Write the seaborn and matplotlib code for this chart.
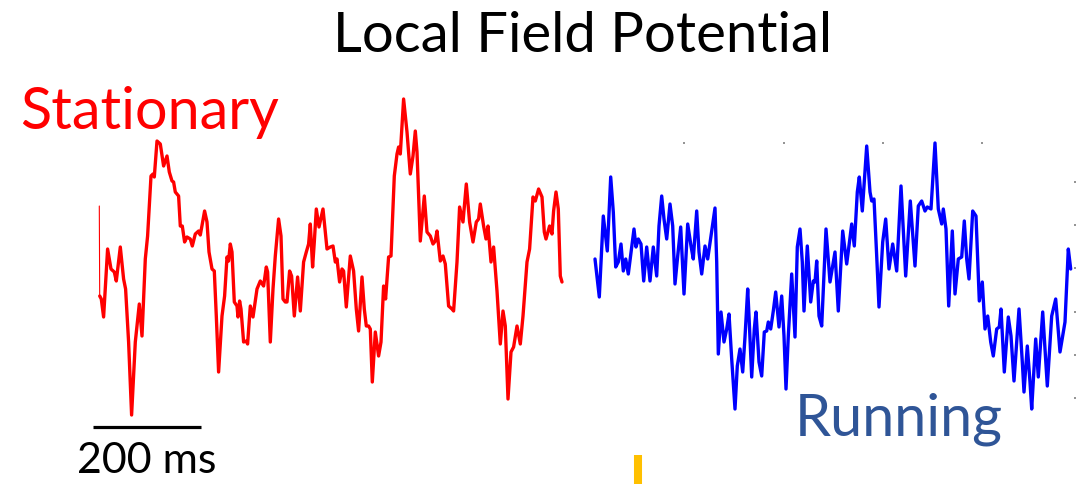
import matplotlib
matplotlib.use("Agg")
import matplotlib.pyplot as plt
import seaborn as sns
import numpy as np
import pandas as pd

# LFP traces, sampled at 540 Hz (sample index, amplitude in µV)
FS_HZ = 540
SCALE_BAR_MS = 200

stationary_sample = [
    0, 0.4, 2, 4.3, 8.3, 11.7, 15, 17, 21, 24.3, 26.3, 29.3, 32.3, 36, 40, 42.7, 46, 48.3,
    51.7, 53.7, 55, 57.7, 61, 64.3, 67.7, 70, 72.7, 74.3, 76, 79.3, 81, 83, 85.3, 87.7, 91,
    93, 96, 99.3, 101, 105.3, 107.7, 109.7, 112.7, 115, 117, 119.3, 122.7, 125.3, 127.7,
    129.3, 131, 132.7, 135, 137.7, 138.7, 140.3, 141.7, 144.3, 147, 148.3, 151, 153.7,
    157.7, 161, 164.3, 167, 168.3, 171, 173.7, 176, 179.3, 181.7, 183.7, 186, 187.7, 190.3,
    192.3, 195, 198.3, 201, 204.3, 207, 209.3, 211, 213.3, 215, 217, 219.7, 223.7, 226,
    227.7, 231, 233.7, 236, 237.7, 240.3, 242.7, 244.3, 247, 251, 254.3, 257, 259.3, 262.7,
    265, 267, 269.3, 271, 273, 276, 279.3, 281.7, 284.3, 286.3, 289.3, 291.7, 295, 297.7,
    299.3, 301, 304.3, 307.7, 311, 313.7, 316, 317.7, 321, 325, 327.7, 331, 333.7, 336,
    337.7, 341, 343.7, 346, 349.3, 352.7, 354.3, 357.7, 360.3, 363.7, 367, 370.3, 373.7,
    377, 379.3, 381, 384.3, 386.7, 388.7, 391.7, 394.3, 397.7, 401, 403.7, 406, 408.7,
    411.7, 414.3, 417.7, 421, 423.7, 427.7, 430.3, 433.7, 436, 439.3, 442.7, 445, 446.7,
    450.3, 452.7, 454.3, 456.7, 459, 461, 462.7,
]
stationary_uv = [
    83, -7, -10, -28, 40, 20, 17, 8, 42, 10, 0, -53, -126, -53, -15, -47, 30, 53,
    113, 115, 112, 148, 145, 123, 133, 117, 108, 107, 97, 93, 63, 63, 47, 52, 50,
    43, 55, 58, 54, 78, 67, 37, 20, 18, -27, -83, -27, -7, 32,
    28, 45, 37, -13, -17, -28, -12, -20, -53, -52, -55, -17, -28,
    0, 8, 3, 22, 17, -53, 0, 33, 70, 53, -10, -13, -13, 18,
    13, -27, 12, -22, 27, 37, 45, 65, 22, 47, 80, 62, 80, 57,
    40, 42, 43, 27, 30, 7, 20, 18, -18, 33, 18, -20, -42, 12,
    -20, -37, -37, -40, -93, -43, -67, -53, 3, -10, 32, 33, 113, 135,
    142, 135, 190, 157, 115, 133, 158, 137, 48, 93, 57, 53, 45, 48,
    58, 28, 33, 25, -17, -20, -22, 27, 82, 67, 105, 67, 47,
    67, 70, 85, 63, 50, 63, 27, 42, -2, -55, -22, -37, -110,
    -63, -58, -37, -55, -27, 27, 40, 92, 88, 100, 92, 57, 50,
    63, 55, 78, 97, 80, 13, 7,
]

running_sample = [
    0, 4.3, 8.3, 12.3, 15.7, 18.3, 20.7, 23.3, 26, 28.3, 30.7, 33.3, 36.7, 39, 41, 43.3,
    46, 48.7, 51.7, 55, 58.3, 61.7, 64, 66.7, 69, 71.7, 75, 77.7, 80, 82.7, 85.7, 89,
    92.7, 96, 98.3, 101.7, 104, 106.7, 110, 112.7, 116, 120, 121.7, 123.3, 126, 129,
    131.7, 134, 136.7, 140, 142.3, 145, 147.7, 150, 152.7, 154, 156.7, 159.3, 161, 164,
    166.7, 169.3, 171.7, 173.3, 175.7, 178.3, 180.7, 184, 186.7, 189, 191, 193.3, 196.7,
    200, 202.3, 205, 207.3, 209, 212.3, 215.7, 218.3, 220, 221.7, 224, 226.7, 231, 235,
    240, 243.3, 247.7, 251.7, 256.7, 259.3, 262.3, 264.3, 267.3, 271.7, 275, 276.7, 279,
    281.7, 284, 287.7, 290.7, 294, 297.7, 301.7, 306, 310.7, 315.3, 320, 323.3, 326.7,
    330, 332.3, 336, 340, 343.3, 346.7, 348.3, 351, 353.7, 357.3, 360, 363.3, 366.7,
    369.3, 371.7, 374, 377.7, 381, 384.3, 387.3, 390, 392.7, 395.7, 398.3, 401.7, 404.3,
    406, 409.3, 413.3, 416, 419, 424, 427.3, 429, 432.3, 435, 436.7, 440.7, 443.3, 447.7,
    452.3, 456.7, 460.7, 465, 468.3, 470, 473.3, 475.7,
]
running_uv = [
    30, -8, 73, 38, 112, 77, 22, 27, 45, 18, 30, 15, 42, 60, 42, 50,
    45, 8, 42, 8, 42, 13, 63, 93, 70, 50, 85, 63, 5, 33, 62, -5,
    65, 43, 30, 78, 37, 15, 43, 30, 53, 81, 27, -65, -23, -53,
    -40, -25, -70, -120, -77, -60, -83, -48, 0, -27, -88, -40, -23, -73,
    -87, -43, -42, -33, -40, -22, -3, -38, -7, -47, -100, -47, 15,
    -48, 42, 60, 27, -22, 43, -13, 8, 7, 28, -27, -37, 60, 7,
    37, -22, 58, 25, 65, 43, 97, 112, 78, 143, 97, 88, 90,
    33, -18, 47, 70, 20, 45, 18, 103, 13, 88, 23, 83, 88,
    78, 82, 80, 146, 80, 65, 80, 60, -17, 58, -5, 30, 32,
    68, 30, 10, 78, 73, -12, 7, -40, -27, -53, -67, -40, -38,
    -20, -83, -28, -47, -92, -20, -73, -103, -57, -93, -120, -50, -88, -23,
    -97, -27, -10, -63, -43, -33, 40, 20,
]

# behavioural event marker on the running trace (sample index)
running_event_sample = 42.5

TEXT_FONT = ["Lato", "DejaVu Sans"]

sns.set_theme(style="white")
plt.rcParams["font.family"] = TEXT_FONT

stationary = pd.DataFrame({"sample": stationary_sample, "uv": stationary_uv})
running = pd.DataFrame({"sample": running_sample, "uv": running_uv})
running_offset = 495.7  # horizontal gap between the two panels, in samples
running["x"] = running["sample"] + running_offset

fig = plt.figure(figsize=(10.79, 4.85), dpi=100)
ax = fig.add_axes([0, 0, 1, 1])
ax.set_xlim(-99.3, 979.7)
ax.set_ylim(-195, 290)
ax.axis("off")

lw = 2.4
# thin leading edge of the stationary sweep
ax.plot(stationary["sample"][:2], stationary["uv"][:2], color="#ff0000", lw=0.8)
sns.lineplot(data=stationary.iloc[1:], x="sample", y="uv", sort=False, estimator=None,
             color="#ff0000", lw=lw, ax=ax)
sns.lineplot(data=running, x="x", y="uv", sort=False, estimator=None,
             color="#0000ff", lw=lw, ax=ax)
for line in ax.lines:
    line.set_solid_joinstyle("round")
    line.set_solid_capstyle("round")

# scale bar
bar_len = SCALE_BAR_MS * FS_HZ / 1000.0
bar_start, bar_level = -6.6, -138.3
ax.plot([bar_start, bar_start + bar_len], [bar_level, bar_level], color="black",
        lw=2.3, solid_capstyle="butt")
ax.text(bar_start + bar_len / 2, -183.0, f"{SCALE_BAR_MS} ms", ha="center",
        va="baseline", fontsize=31, color="black")

# event marker
ax.plot([running_event_sample + running_offset] * 2, [-165.7, -196], color="#ffc000",
        lw=5.8, solid_capstyle="butt")

# labels
fig.text(582.5 / 1079, 1 - 51.7 / 485, "Local Field Potential", ha="center",
         va="baseline", fontsize=40.5, color="black")
fig.text(20 / 1079, 1 - 129 / 485, "Stationary", ha="left", va="baseline",
         fontsize=41.5, color="#ff0000")
fig.text(795 / 1079, 1 - 436 / 485, "Running", ha="left", va="baseline",
         fontsize=41.5, color="#2f5597")

# faint tick remnants of the running panel frame
ax2 = fig.add_axes([595 / 1079, 1 - 415 / 485, 481 / 1079, 272 / 485])
ax2.patch.set_alpha(0)
for sp in ax2.spines.values():
    sp.set_visible(False)
ax2.set_xlim(0, 481)
ax2.set_ylim(0, 272)
ax2.set_xticks([89, 189, 288, 387])
ax2.set_yticks([16, 59, 102, 146, 189, 232])
ax2.tick_params(top=True, bottom=False, left=False, right=True, labeltop=False,
                labelbottom=False, labelleft=False, labelright=False,
                length=1.2, width=1.2, color="#808080", direction="in")

fig.savefig("out.png", dpi=100)
